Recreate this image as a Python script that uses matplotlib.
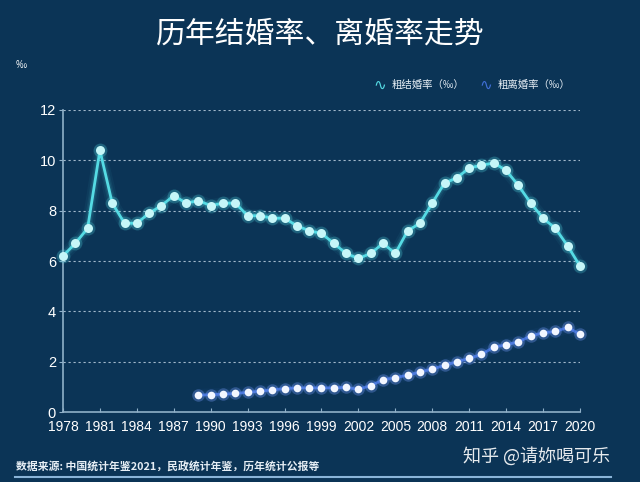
import numpy as np
import matplotlib
matplotlib.use("Agg")
import matplotlib.pyplot as plt

plt.rcParams['font.family'] = ['Noto Sans CJK SC', 'DejaVu Sans']

# 数据
marriage_years = list(range(1978, 2021))
marriage_rate = [6.2, 6.7, 7.3, 10.4, 8.3, 7.5, 7.5, 7.9, 8.2, 8.6,
                 8.3, 8.4, 8.2, 8.3, 8.3, 7.8, 7.8, 7.7, 7.7, 7.4,
                 7.2, 7.1, 6.7, 6.3, 6.1, 6.3, 6.7, 6.3, 7.2, 7.5,
                 8.3, 9.1, 9.3, 9.7, 9.8, 9.9, 9.6, 9.0, 8.3, 7.7,
                 7.3, 6.6, 5.8]
divorce_years = list(range(1989, 2021))
divorce_rate = [0.67, 0.69, 0.71, 0.74, 0.78, 0.83, 0.88, 0.93, 0.96, 0.96,
                0.96, 0.96, 0.98, 0.90, 1.05, 1.28, 1.37, 1.46, 1.59, 1.71,
                1.85, 2.00, 2.13, 2.29, 2.58, 2.67, 2.79, 3.02, 3.15, 3.20,
                3.36, 3.09]
xticks = list(range(1978, 2021, 3))
yticks = [0, 2, 4, 6, 8, 10, 12]

bg = '#0b3456'
cyan = '#55dbe4'
blue = '#3f6fd6'

fig = plt.figure(figsize=(6.4, 4.82), dpi=100, facecolor=bg)
ax = fig.add_axes([0.0984, 0.1452, 0.8078, 0.6266], facecolor=bg)

# 发光效果
for lw, a in [(9, 0.05), (6, 0.08), (4, 0.12)]:
    ax.plot(marriage_years, marriage_rate, color=cyan, lw=lw, alpha=a, solid_capstyle='round', clip_on=False)
    ax.plot(divorce_years, divorce_rate, color=blue, lw=lw, alpha=a, solid_capstyle='round', clip_on=False)

ax.plot(marriage_years, marriage_rate, color=cyan, lw=2, clip_on=False, zorder=3)
ax.plot(marriage_years, marriage_rate, 'o', ms=10, color=cyan, alpha=0.25, mec='none', clip_on=False, zorder=3)
ax.plot(marriage_years, marriage_rate, 'o', ms=6.5, color='#c6f6f8', mec='none', clip_on=False, zorder=4)

ax.plot(divorce_years, divorce_rate, color=blue, lw=2, clip_on=False, zorder=3)
ax.plot(divorce_years, divorce_rate, 'o', ms=9, color='#6f95ee', alpha=0.35, mec='none', clip_on=False, zorder=3)
ax.plot(divorce_years, divorce_rate, 'o', ms=5.5, color='#f2f6ff', mec='none', clip_on=False, zorder=4)

ax.set_xlim(1978, 2020)
ax.set_ylim(0, 12)
ax.set_xticks(xticks)
ax.set_yticks(yticks)

tick_font = ['Liberation Sans', 'DejaVu Sans']
ax.set_xticklabels([str(x) for x in xticks], family=tick_font, fontsize=10, color='white')
ax.set_yticklabels([str(y) for y in yticks], family=tick_font, fontsize=10.5, color='white')
ax.tick_params(axis='x', direction='in', length=3, color='#8fb0c8', pad=6)
ax.tick_params(axis='y', direction='out', length=3, color='#8fb0c8', pad=2)

for y in yticks[1:]:
    ax.axhline(y, color='#c9dbea', lw=0.8, ls=(0, (2, 2.5)), alpha=0.8, zorder=1)

for s in ['top', 'right']:
    ax.spines[s].set_visible(False)
for s in ['left', 'bottom']:
    ax.spines[s].set_color('#8fb0c8')
    ax.spines[s].set_linewidth(1.2)

# 标题和文字
fig.text(0.5, 0.93, '历年结婚率、离婚率走势', ha='center', va='center', fontsize=21.5, color='white')
fig.text(0.025, 0.865, '‰', ha='left', va='center', fontsize=8, color='white')

fig.text(0.583, 0.823, '∿', ha='left', va='center', fontsize=11, color=cyan, family=['DejaVu Sans'])
fig.text(0.612, 0.823, '粗结婚率（‰）', ha='left', va='center', fontsize=7.5, color='#e6eef5')
fig.text(0.749, 0.823, '∿', ha='left', va='center', fontsize=11, color=blue, family=['DejaVu Sans'])
fig.text(0.777, 0.823, '粗离婚率（‰）', ha='left', va='center', fontsize=7.5, color='#e6eef5')

fig.text(0.025, 0.033, '数据来源: 中国统计年鉴2021，民政统计年鉴，历年统计公报等',
         ha='left', va='center', fontsize=7.8, color='#e6eef5', fontweight='bold')
fig.text(0.953, 0.054, '知乎 @请妳喝可乐', ha='right', va='center', fontsize=13, color='white', alpha=0.9)
fig.add_artist(plt.Line2D([0.023, 0.955], [0.01, 0.01], color='#8ab4d8', lw=1.5))

fig.savefig('out.png', dpi=100, facecolor=bg)
